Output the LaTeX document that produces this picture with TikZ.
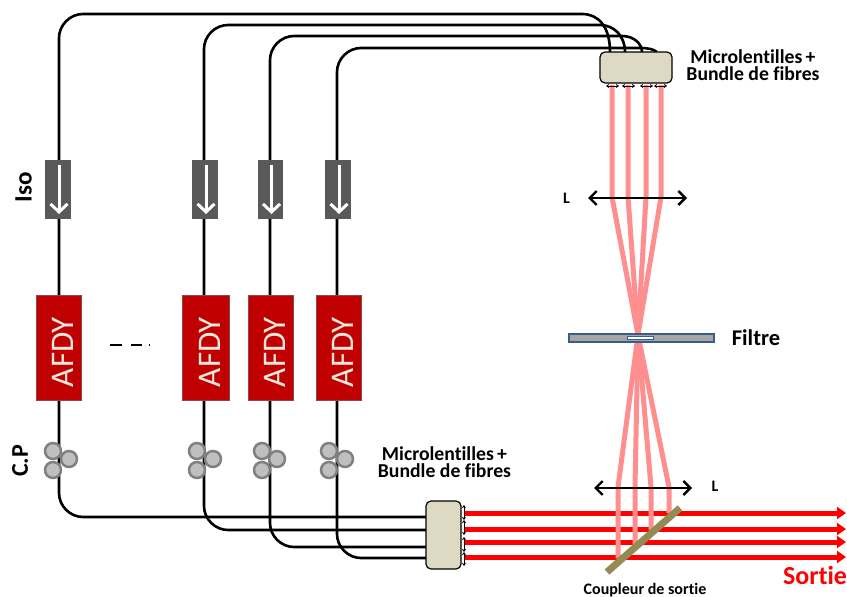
\documentclass[tikz,border=0pt]{standalone}
\usepackage{fontspec}
\setmainfont{Carlito}[Ligatures=NoCommon]
\usetikzlibrary{arrows.meta}
\definecolor{pinkb}{HTML}{FF8F8F}
\definecolor{amp}{HTML}{C00000}
\definecolor{ampb}{HTML}{8C4A4A}
\definecolor{bund}{HTML}{DDD9C3}
\definecolor{iso}{HTML}{595959}
\definecolor{coup}{HTML}{948A54}
\definecolor{bluef}{HTML}{385D8A}
\definecolor{ampt}{HTML}{EEE6DC}
\tikzset{
 fibre/.style={draw=black,line width=2.6pt},
 isobox/.style={fill=iso,draw=none,minimum height=59pt,inner sep=0pt,outer sep=0pt},
 isoarrow/.style={draw=white,line width=3pt,-{Straight Barb[length=8pt,width=17pt,line width=3pt]}},
 ampbox/.style={fill=amp,draw=ampb,line width=0.8pt,minimum height=105pt,inner sep=0pt,outer sep=0pt},
 amptext/.style={rotate=90,font=\fontsize{33}{33}\selectfont,text=ampt,inner sep=0pt},
 pad/.style={circle,fill=black!25,draw=black!50,line width=2.5pt,minimum size=16pt,inner sep=0pt,outer sep=0pt},
 bundle/.style={fill=bund,draw=black,line width=1.2pt,rounded corners=5pt,inner sep=0pt,outer sep=0pt},
 pinkbeam/.style={draw=pinkb,line width=5pt},
 redbeam/.style={draw=red,line width=5pt,-{Triangle[length=9pt,width=12pt]}},
 lensarrow/.style={draw=black,line width=2.4pt,{Straight Barb[length=7pt,width=14pt,line width=2.4pt]}-{Straight Barb[length=7pt,width=14pt,line width=2.4pt]}},
 micro/.style={draw=black,line width=0.7pt,{Stealth[length=3pt,width=4pt]}-{Stealth[length=3pt,width=4pt]}},
 lab/.style={font=\bfseries\fontsize{19.7}{17.2}\selectfont,align=center,inner sep=0pt},
 biglab/.style={font=\bfseries\fontsize{22.5}{22.5}\selectfont,inner sep=0pt},
 small/.style={font=\bfseries\fontsize{16}{16}\selectfont,inner sep=0pt},
}
\begin{document}
\begin{tikzpicture}[x=1pt,y=-1pt]
\useasboundingbox (0,0) rectangle (847,597);
\coordinate (t1) at (610,52); \coordinate (t2) at (625,52); \coordinate (t3) at (642,52); \coordinate (t4) at (657,52);
\coordinate (b1) at (426,517); \coordinate (b2) at (426,530); \coordinate (b3) at (426,547); \coordinate (b4) at (426,558);
% fibres
\draw[fibre] (b1) -- (83,517) .. controls (70,517) and (59,506) .. (59,493) -- (59,38) .. controls (59,25) and (70,14) .. (83,14) -- (582,14) .. controls (598,14) and (610,26) .. (t1);
\draw[fibre] (b2) -- (228,530) .. controls (215,530) and (204,519) .. (204,506) -- (204,49) .. controls (204,36) and (215,25) .. (228,25) -- (600,25) .. controls (614,25) and (625,36) .. (t2);
\draw[fibre] (b3) -- (294,547) .. controls (281,547) and (270,536) .. (270,523) -- (270,60) .. controls (270,47) and (281,36) .. (294,36) -- (622,36) .. controls (634,36) and (642,44) .. (t3);
\draw[fibre] (b4) -- (361,558) .. controls (348,558) and (337,547) .. (337,534) -- (337,72) .. controls (337,59) and (348,48) .. (361,48) -- (640,48) .. controls (648,48) and (653,49) .. (t4);
% isolators
\foreach \n/\xc/\w in {1/58/26,2/205/26,3/270.5/25,4/338/26}{
  \node[isobox,minimum width=\w pt] (iso\n) at (\xc,189.5) {};
  \coordinate (isoT\n) at (\xc+1,165);
  \coordinate (isoB\n) at (\xc+1,214);
  \draw[isoarrow] (isoT\n) -- (isoB\n);
}
% amplifiers
\foreach \n/\xc/\w in {1/58.5/45,2/206/47,3/270.5/45,4/338.5/45}{
  \node[ampbox,minimum width=\w pt] (amp\n) at (\xc,347.5) {};
  \node[amptext] (ampt\n) at (\xc+4,352) {AFDY};
}
\node[inner sep=0pt,minimum size=0pt] (dotsL) at (110,345) {};
\node[inner sep=0pt,minimum size=0pt] (dotsR) at (150,345) {};
\draw[black,line width=1.8pt,dash pattern=on 12pt off 9pt on 11pt off 7pt on 1.5pt off 5pt] (dotsL) -- (dotsR);
% polarisation controllers
\foreach \n/\xa/\xc in {1/53/69,2/197/213,3/262/277,4/329/345}{
  \node[pad] (pa\n) at (\xa,451) {};
  \node[pad] (pb\n) at (\xa,470) {};
  \node[pad] (pc\n) at (\xc,459) {};
}
% red output beams
\coordinate (r1) at (464,513); \coordinate (r2) at (464,529); \coordinate (r3) at (464,542); \coordinate (r4) at (464,557);
\coordinate (re1) at (846,513); \coordinate (re2) at (846,529); \coordinate (re3) at (846,542); \coordinate (re4) at (846,557);
\foreach \n in {1,2,3,4}{ \draw[redbeam] (r\n) -- (re\n); }
% pink beams
\coordinate (focus) at (638,335);
\foreach \n/\xa/\xb/\ye in {1/612/618/558,2/628/635/545,3/646/651/530,4/661/669/513}{
  \coordinate (pt\n) at (\xa,85);
  \coordinate (pl\n) at (\xa,197);
  \coordinate (ql\n) at (\xb,487);
  \coordinate (qe\n) at (\xb,\ye);
  \draw[pinkbeam,line join=bevel] (pt\n) -- (pl\n) -- (focus) -- (ql\n) -- (qe\n);
}
% bundle boxes
\node[bundle,minimum width=72pt,minimum height=31pt] (bundleT) at (636,67.5) {};
\node[bundle,minimum width=35pt,minimum height=68pt] (bundleB) at (443.5,535) {};
% microlenses
\foreach \a/\b in {606/619,622/635,640/653,654/667}{
  \coordinate (ma) at (\a,86); \coordinate (mb) at (\b,86);
  \draw[micro] (ma) -- (mb);
}
\foreach \a/\b in {505/520,520/535,537/552,552/566}{
  \coordinate (ma) at (464,\a); \coordinate (mb) at (464,\b);
  \draw[micro] (ma) -- (mb);
}
% lenses
\coordinate (lt1) at (588,198); \coordinate (lt2) at (687,198);
\coordinate (lb1) at (594,488); \coordinate (lb2) at (692,488);
\draw[lensarrow] (lt1) -- (lt2);
\draw[lensarrow] (lb1) -- (lb2);
% filter
\node[fill=black!35,draw=bluef,line width=1.2pt,minimum width=145pt,minimum height=8pt,inner sep=0pt] (filtre) at (641.5,338) {};
\node[fill=white,draw=bluef,line width=1pt,minimum width=26pt,minimum height=3.5pt,inner sep=0pt] (slit) at (640,338) {};
% coupler
\coordinate (c1) at (607,572); \coordinate (c2) at (680,508);
\draw[draw=coup,line width=7pt] (c1) -- (c2);
% labels
\node[lab] (lbT) at (753,65.5) {Microlentilles\,+\\Bundle de fibres};
\node[lab] (lbB) at (444.5,462.5) {Microlentilles\,+\\Bundle de fibres};
\node[small] (lL1) at (566.5,198) {L};
\node[small] (lL2) at (715,486) {L};
\node[biglab] (lF) at (756,338) {Filtre};
\node[biglab,rotate=90,font=\bfseries\fontsize{25}{25}\selectfont] (lIso) at (23.5,187) {Iso};
\node[biglab,rotate=90,font=\bfseries\fontsize{24}{24}\selectfont] (lCP) at (20,461) {C.P};
\node[biglab,text=red,font=\bfseries\fontsize{26}{26}\selectfont] (lS) at (815,575) {Sortie};
\node[small] (lC) at (645,590) {Coupleur de sortie};
\end{tikzpicture}
\end{document}
